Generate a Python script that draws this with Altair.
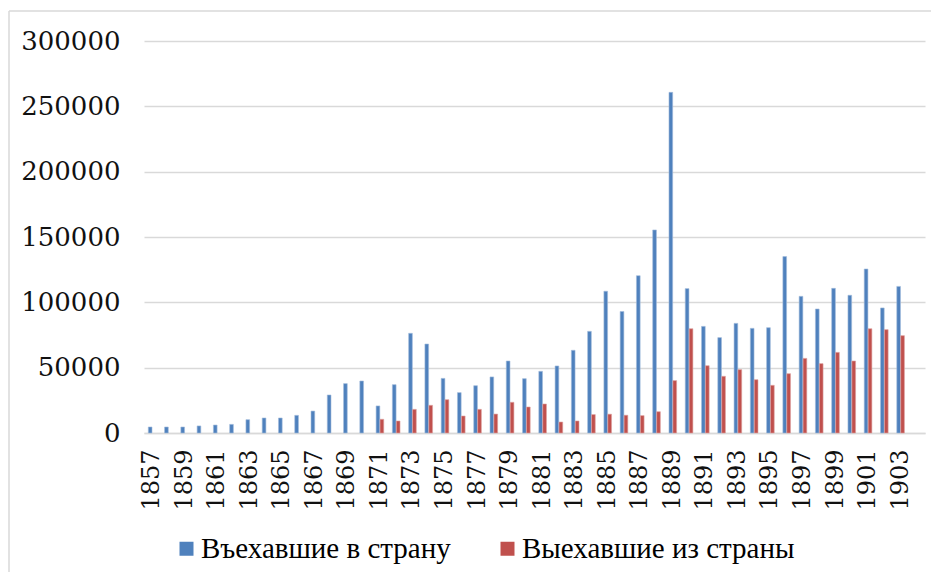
import altair as alt
import pandas as pd

years = list(range(1857, 1904))
extra_slot = [1904]
tick_years = [1857, 1859, 1861, 1863, 1865, 1867, 1869, 1871, 1873, 1875, 1877, 1879,
              1881, 1883, 1885, 1887, 1889, 1891, 1893, 1895, 1897, 1899, 1901, 1903]
y_ticks = [0, 50000, 100000, 150000, 200000, 250000, 300000]

series = ["Въехавшие в страну", "Выехавшие из страны"]
colors = ["#4F81BD", "#C0504D"]
edge_colors = ["#a3bcdc", "#dea3a1"]

arrived = [4600, 4600, 4600, 5400, 6100, 6600, 10200, 11500, 11500, 13500,
           16800, 29100, 37800, 39800, 20700, 37000, 76300, 68100, 41800, 30900,
           36200, 42900, 55100, 41600, 47200, 51300, 63300, 77800, 108500, 93000,
           120400, 155400, 260700, 110500, 81600, 73000, 83900, 80100, 80600, 135000,
           104600, 94900, 110700, 105400, 125500, 95700, 112200]
departed = [None, None, None, None, None, None, None, None, None, None,
            None, None, None, None, 10500, 9200, 18100, 21200, 25500, 13000,
            18100, 14500, 23500, 19900, 22200, 8400, 9200, 14100, 14400, 13600,
            13300, 16300, 40100, 79800, 51500, 43400, 48500, 40800, 36500, 45400,
            57100, 53100, 61700, 55100, 79800, 79100, 74500]

rows = []
for yr, a, d in zip(years, arrived, departed):
    rows.append({"year": yr, "series": series[0], "value": a})
    rows.append({"year": yr, "series": series[1], "value": d})
df = pd.DataFrame(rows)

AXIS_FONT = "'DejaVu Serif', serif"
LEGEND_FONT = "'Liberation Serif', serif"

bars = alt.Chart(df).mark_bar(strokeWidth=0.6).encode(
    x=alt.X("year:O",
            scale=alt.Scale(domain=years + extra_slot, paddingInner=0.53, paddingOuter=0.265),
            axis=alt.Axis(values=tick_years, title=None, labelAngle=-90, ticks=False,
                          domainColor="#d9d9d9", domainWidth=1.5, labelPadding=16,
                          labelFont=AXIS_FONT, labelFontSize=24, labelColor="#111111",
                          grid=False)),
    xOffset=alt.XOffset("series:N", sort=series,
                        scale=alt.Scale(domain=series, paddingInner=0.06)),
    y=alt.Y("value:Q",
            scale=alt.Scale(domain=[0, 300000], nice=False),
            axis=alt.Axis(values=y_ticks, format="d", title=None, ticks=False, domain=False,
                          gridColor="#d9d9d9", gridWidth=1.5, labelPadding=24,
                          labelFont=AXIS_FONT, labelFontSize=26, labelColor="#111111")),
    color=alt.Color("series:N", sort=series,
                    scale=alt.Scale(domain=series, range=colors),
                    legend=alt.Legend(title=None, orient="none", direction="horizontal",
                                      legendX=28, legendY=493, padding=0,
                                      symbolType="square", symbolSize=196,
                                      symbolStrokeWidth=0, labelOffset=0,
                                      columnPadding=42, labelLimit=500,
                                      labelFont=LEGEND_FONT, labelFontSize=29,
                                      labelColor="#000000")),
    stroke=alt.Stroke("series:N", scale=alt.Scale(domain=series, range=edge_colors), legend=None),
)

one = pd.DataFrame({"k": [0]})
frame_left = alt.Chart(one).mark_rule(color="#d9d9d9", strokeWidth=1.5).encode(
    x=alt.value(-135), y=alt.value(-30), y2=alt.value(531))
frame_top = alt.Chart(one).mark_rule(color="#d9d9d9", strokeWidth=1.5).encode(
    x=alt.value(-135), x2=alt.value(787), y=alt.value(-30))

chart = alt.layer(frame_left, frame_top, bars).properties(
    width=781, height=392,
    padding={"left": 0, "top": 2, "right": 0, "bottom": 0},
    background="white",
).configure_view(stroke=None)

chart.save("out.html", embed_options={"renderer": "svg", "actions": False})
